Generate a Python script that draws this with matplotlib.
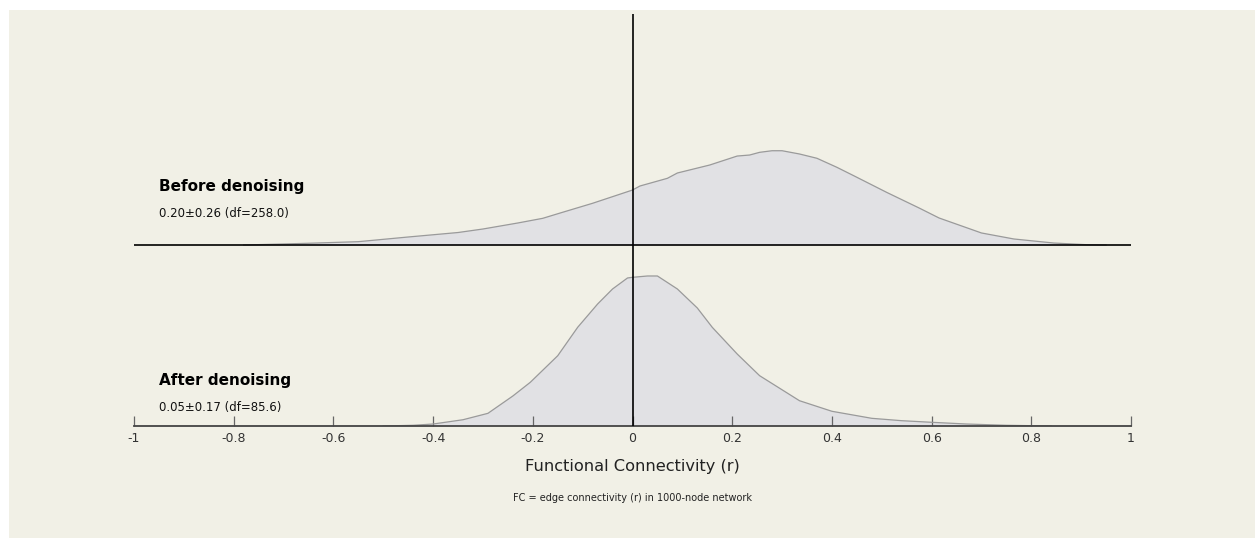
import matplotlib
matplotlib.use("Agg")
import matplotlib.pyplot as plt
import numpy as np
from matplotlib.patches import Rectangle

# density curves (x = r, y = density)
before_r = [-0.78, -0.70, -0.65, -0.55, -0.45, -0.35, -0.30, -0.23, -0.18, -0.145,
            -0.08, -0.01, 0.0, 0.015, 0.07, 0.09, 0.155, 0.21, 0.235, 0.255, 0.28,
            0.30, 0.335, 0.37, 0.41, 0.445, 0.51, 0.575, 0.615, 0.70, 0.765, 0.845,
            0.91, 0.95]
before_d = [0.0, 0.016, 0.027, 0.052, 0.125, 0.195, 0.25, 0.344, 0.417, 0.50,
            0.652, 0.833, 0.859, 0.922, 1.042, 1.125, 1.25, 1.39, 1.406, 1.448, 1.473,
            1.473, 1.422, 1.355, 1.214, 1.078, 0.822, 0.578, 0.422, 0.188, 0.094, 0.031,
            0.005, 0.0]

after_r = [-0.50, -0.44, -0.40, -0.34, -0.29, -0.24, -0.205, -0.15, -0.11, -0.07,
           -0.04, -0.01, 0.0, 0.03, 0.05, 0.09, 0.13, 0.16, 0.21, 0.255, 0.335, 0.40,
           0.48, 0.54, 0.60, 0.67, 0.75, 0.84]
after_d = [0.0, 0.011, 0.031, 0.098, 0.198, 0.469, 0.683, 1.098, 1.542, 1.906,
           2.141, 2.313, 2.323, 2.344, 2.344, 2.141, 1.844, 1.542, 1.125, 0.786, 0.395, 0.230,
           0.120, 0.083, 0.058, 0.031, 0.011, 0.0]

labels = ["Before denoising", "After denoising"]
stats = ["0.20\u00b10.26 (df=258.0)", "0.05\u00b10.17 (df=85.6)"]
ticks = [-1, -0.8, -0.6, -0.4, -0.2, 0, 0.2, 0.4, 0.6, 0.8, 1]
tick_labels = ["-1", "-0.8", "-0.6", "-0.4", "-0.2", "0", "0.2", "0.4", "0.6", "0.8", "1"]

W, H = 1255, 538
fig = plt.figure(figsize=(W / 100, H / 100), dpi=100)
fig.patch.set_facecolor("white")
fig.patches.append(Rectangle((9 / W, 0), 1 - 9 / W, 1 - 10 / H, transform=fig.transFigure,
                             facecolor="#f1f0e6", edgecolor="none", zorder=-10))

ax = fig.add_axes([134 / W, 112 / H, 997 / W, 412 / H])
ax.set_facecolor("none")
ax.set_xlim(-1, 1)
ax.set_ylim(0, 412 / 64)

offsets = [181 / 64, 0.0]
curves = [(before_r, before_d), (after_r, after_d)]
title_dy = [58 / 64, 46 / 64]
stat_dy = [32 / 64, 19 / 64]

for (rr, dd), off, lab, st, tdy, sdy in zip(curves, offsets, labels, stats, title_dy, stat_dy):
    rr = np.array(rr)
    dd = np.array(dd) + off
    ax.fill_between(rr, off, dd, facecolor="#e1e1e4", edgecolor="none", zorder=1)
    ax.plot(rr, dd, color="#9a9a9a", lw=0.9, zorder=2)
    ax.text(-0.95, off + tdy, lab, fontsize=11, fontweight="bold", ha="left", va="center",
            color="black")
    ax.text(-0.95, off + sdy, st, fontsize=8.5, ha="left", va="center", color="#111111")

# baseline of upper ridge
ax.hlines(offsets[0], -1, 1, color="black", lw=1.2, zorder=3)
# zero line
ax.axvline(0, color="black", lw=1.2, zorder=4)

for s in ["top", "right", "left"]:
    ax.spines[s].set_visible(False)
ax.spines["bottom"].set_color("#444444")
ax.spines["bottom"].set_linewidth(1.3)
ax.set_yticks([])
ax.set_xticks(ticks)
ax.set_xticklabels(tick_labels)
ax.tick_params(axis="x", direction="in", length=7, width=0.9, color="#666666",
               labelsize=9, labelcolor="#333333", pad=4)

fig.text(632.5 / W, (H - 466) / H, "Functional Connectivity (r)", ha="center", va="center",
         fontsize=11.7, color="#222222")
fig.text(632.5 / W, (H - 498) / H, "FC = edge connectivity (r) in 1000-node network",
         ha="center", va="center", fontsize=7, color="#222222")

fig.savefig("out.png", dpi=100, facecolor=fig.get_facecolor())
